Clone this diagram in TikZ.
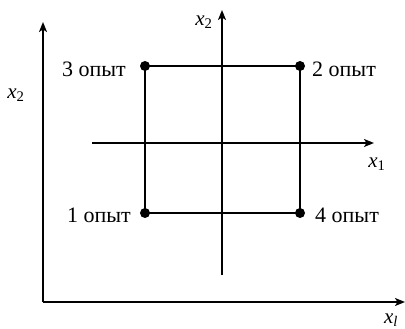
\documentclass[tikz,border=0pt]{standalone}
\usepackage{fontspec}
\setmainfont{Liberation Serif}
\usetikzlibrary{arrows.meta}
\begin{document}
\begin{tikzpicture}[x=1pt,y=-1pt,
  axis/.style={line width=1.5pt,-{Stealth[length=10pt,width=8pt,inset=2.5pt]}},
  side/.style={line width=2.3pt},
  pt/.style={circle,fill=black,inner sep=0pt,minimum size=10pt},
  lbl/.style={font=\fontsize{22}{26}\selectfont,inner sep=0pt},
  axlbl/.style={font=\fontsize{21}{24}\selectfont\itshape,inner sep=0pt}]
\useasboundingbox (0,0) rectangle (405,329);
% outer axes
\coordinate (O) at (43,302);
\coordinate (Ytop) at (43,22);
\coordinate (Xend) at (405,302);
\draw[axis] (O) -- (Ytop);
\draw[axis] (O) -- (Xend);
\node[axlbl] (ly) at (16,95) {x\textsubscript{\upshape 2}};
\node[axlbl] (lx) at (391,320) {x\textsubscript{\itshape l}};
% inner axes
\coordinate (Vb) at (222,275);
\coordinate (Vt) at (222,10);
\coordinate (Hl) at (92,143);
\coordinate (Hr) at (374,143);
\draw[axis] (Vb) -- (Vt);
\draw[axis] (Hl) -- (Hr);
\node[axlbl] (iy) at (204,22) {x\textsubscript{\upshape 2}};
\node[axlbl] (ix) at (377,164) {x\textsubscript{\upshape 1}};
% square
\node[pt] (p3) at (145,66) {};
\node[pt] (p2) at (300,66) {};
\node[pt] (p1) at (145,213) {};
\node[pt] (p4) at (300,213) {};
\draw[side] (p1.center) -- (p3.center) -- (p2.center) -- (p4.center) -- cycle;
\node[lbl,anchor=east] (t3) at (126,69) {3 опыт};
\node[lbl,anchor=west] (t2) at (312,69) {2 опыт};
\node[lbl,anchor=east] (t1) at (131,215) {1 опыт};
\node[lbl,anchor=west] (t4) at (315,215) {4 опыт};
\end{tikzpicture}
\end{document}
